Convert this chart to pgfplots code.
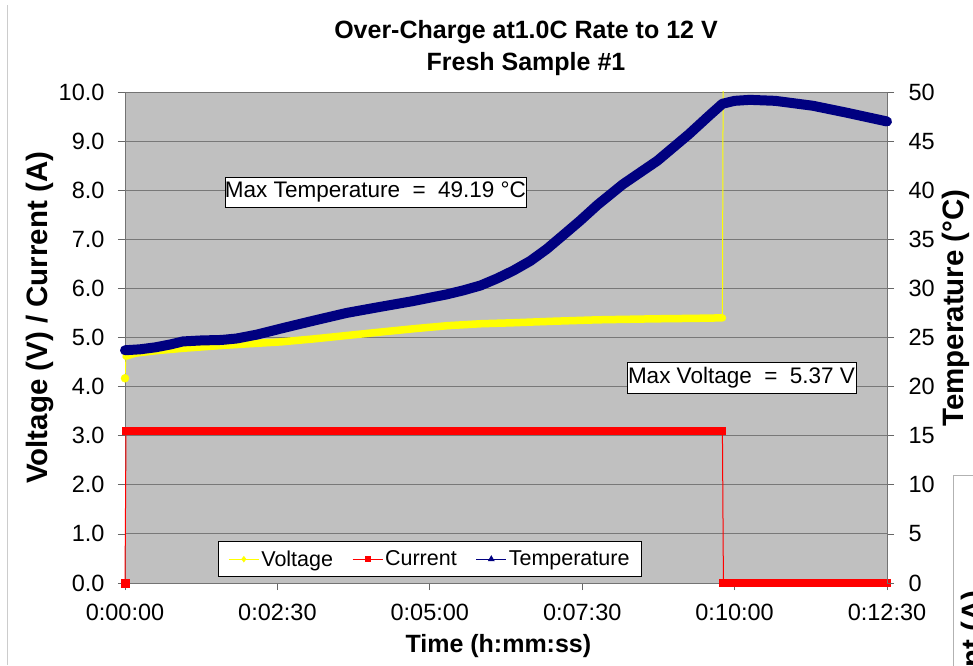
\documentclass[border=0pt]{standalone}
\usepackage{fontspec}
\setmainfont{Liberation Sans}
\usepackage{pgfplots}
\pgfplotsset{compat=1.18}
\definecolor{plotbg}{HTML}{C0C0C0}
\definecolor{gridc}{HTML}{787878}
\definecolor{vyellow}{HTML}{FFFF00}
\definecolor{cred}{HTML}{FF0000}
\definecolor{tnavy}{HTML}{000080}
\pgfplotsset{
  base/.style={scale only axis, width=762pt, height=491pt, at={(125pt,82pt)}, anchor=south west,
    xmin=0, xmax=750},
  legend image code/.code={\draw[mark repeat=2,mark phase=2,#1] plot coordinates {(0pt,0pt)(15pt,0pt)(30pt,0pt)};},
}
\begin{document}
\begin{tikzpicture}[x=1pt,y=1pt]
\useasboundingbox (0,0) rectangle (973,665);
\fill[white] (0,0) rectangle (973,665);
\draw[black!20, line width=1pt] (7,0) -- (7,660);
% title
\node[align=center, font=\bfseries\fontsize{25}{32}\selectfont] at (526,617) {Over-Charge at1.0C Rate to 12 V\\Fresh Sample \#1};
% ---------------- Axis A: background, grid, left axis, voltage (clipped) ---------
\begin{axis}[base, ymin=0, ymax=10,
  axis background/.style={fill=plotbg},
  axis line style={draw=black!55, line width=0.8pt},
  ymajorgrids, grid style={gridc, line width=0.9pt},
  xtick={0,150,300,450,600,750},
  xticklabels={0:00:00,0:02:30,0:05:00,0:07:30,0:10:00,0:12:30},
  ytick={0,1,...,10},
  yticklabels={0.0,1.0,2.0,3.0,4.0,5.0,6.0,7.0,8.0,9.0,10.0},
  xtick pos=lower, ytick pos=left,
  tick align=outside, major tick length=7pt,
  tick style={black!60, line width=0.8pt},
  ticklabel style={font=\fontsize{23.5}{27}\selectfont},
  xticklabel style={yshift=-11pt},
  yticklabel style={xshift=-10pt},
  ylabel={Voltage (V) / Current (A)},
  ylabel style={at={(axis description cs:-0.1115,0.54)}, anchor=center, font=\bfseries\fontsize{29.5}{34}\selectfont},
  xlabel={Time (h:mm:ss)},
  xlabel style={at={(axis description cs:0.49,-0.128)}, anchor=center, font=\bfseries\fontsize{25}{30}\selectfont},
]
\addplot[vyellow, line width=1pt, forget plot] coordinates {
(0,4.17) (1,4.62) (10,4.68) (30,4.73) (57,4.78) (90,4.83) (120,4.87) (153,4.91) (185,4.97)
(218,5.04) (251,5.11) (285,5.18) (317,5.24) (350,5.28) (382,5.30) (420,5.33)
(465,5.36) (520,5.38) (560,5.39) (588,5.40) (589,12.0) (750,12.0)};
\end{axis}
% ---------------- Axis B: current and voltage bands (unclipped) ---------
\begin{axis}[base, ymin=0, ymax=10, hide axis, clip=false]
\addplot[cred, line width=1pt, forget plot] coordinates {
(0,0) (1,3.1) (588,3.1) (589,0) (750,0)};
\addplot[cred, line width=8pt, line cap=rect, forget plot] coordinates {(1,3.1) (588,3.1)};
\addplot[cred, line width=8pt, line cap=rect, forget plot] coordinates {(589,0) (750,0)};
\addplot[cred, only marks, mark=square*, mark size=4pt, forget plot] coordinates {(0,0)};
\addplot[vyellow, line width=7.5pt, line cap=round, line join=round, forget plot] coordinates {
(1,4.62) (10,4.68) (30,4.73) (57,4.78) (90,4.83) (120,4.87) (153,4.91) (185,4.97)
(218,5.04) (251,5.11) (285,5.18) (317,5.24) (350,5.28) (382,5.30) (420,5.33)
(465,5.36) (520,5.38) (560,5.39) (588,5.40)};
\addplot[vyellow, only marks, mark=*, mark size=4pt, forget plot] coordinates {(0,4.17)};
\end{axis}
% ---------------- Axis C: temperature, right axis, legend ---------
\begin{axis}[base, ymin=0, ymax=50, clip=false,
  axis x line=none, axis y line*=right,
  axis line style={draw=black!55, line width=0.8pt},
  ytick={0,5,...,50},
  yticklabels={0,5,10,15,20,25,30,35,40,45,50},
  tick align=outside, major tick length=7pt,
  tick style={black!60, line width=0.8pt},
  ticklabel style={font=\fontsize{23.5}{27}\selectfont},
  yticklabel style={xshift=11pt},
  ylabel={Temperature (°C)},
  ylabel style={at={(axis description cs:1.091,0.56)}, anchor=center, rotate=0, font=\bfseries\fontsize{29.5}{34}\selectfont},
  legend columns=3,
  legend style={at={(0.122,0.012)}, anchor=south west, draw=black, fill=white, line width=0.8pt,
    font=\fontsize{21.5}{25}\selectfont, inner xsep=10pt, inner ysep=5pt,
    nodes={inner xsep=2pt, inner ysep=4pt},
    /tikz/every even column/.append style={column sep=17pt}},
]
\addplot[tnavy, line width=10pt, line cap=round, line join=round, forget plot] coordinates {
(0,23.7) (15,23.8) (30,24.0) (45,24.3) (57,24.6) (75,24.7) (95,24.75) (110,24.9)
(130,25.3) (153,25.9) (185,26.7) (218,27.5) (250,28.1) (283,28.7) (317,29.4)
(333,29.8) (350,30.3) (366,31.0) (382,31.8) (399,32.8) (415,34.0) (431,35.4)
(448,36.9) (465,38.5) (490,40.6) (524,43.0) (555,45.7) (575,47.6) (588,48.8)
(600,49.1) (615,49.2) (640,49.1) (677,48.6) (710,47.9) (750,47.0)};
\addlegendimage{vyellow, line width=1pt, mark=diamond*, mark size=2.5pt}
\addlegendentry{Voltage}
\addlegendimage{cred, line width=1pt, mark=square*, mark size=2.5pt}
\addlegendentry{Current}
\addlegendimage{tnavy, line width=1pt, mark=triangle*, mark size=3pt}
\addlegendentry{Temperature}
\end{axis}
% annotations
\node[draw=black, fill=white, line width=0.8pt, minimum width=301pt, minimum height=30pt, inner sep=0pt,
  font=\fontsize{22.5}{26}\selectfont] at (375.5,473) {Max Temperature\ \ =\ \ 49.19 °C};
\node[draw=black, fill=white, line width=0.8pt, minimum width=229pt, minimum height=31pt, inner sep=0pt,
  font=\fontsize{22.5}{26}\selectfont] at (741.5,287.5) {Max Voltage\ \ =\ \ 5.37 V};
% fragment of neighbouring chart
\begin{scope}
\clip (0,0) rectangle (973,665);
\draw[black!30, line width=1pt] (953,-5) -- (953,190) -- (980,190);
\node[rotate=90, anchor=east, inner sep=0pt, font=\bfseries\fontsize{29.5}{34}\selectfont] at (975,75) {Voltage (V) / Current (A)};
\end{scope}
\end{tikzpicture}
\end{document}
